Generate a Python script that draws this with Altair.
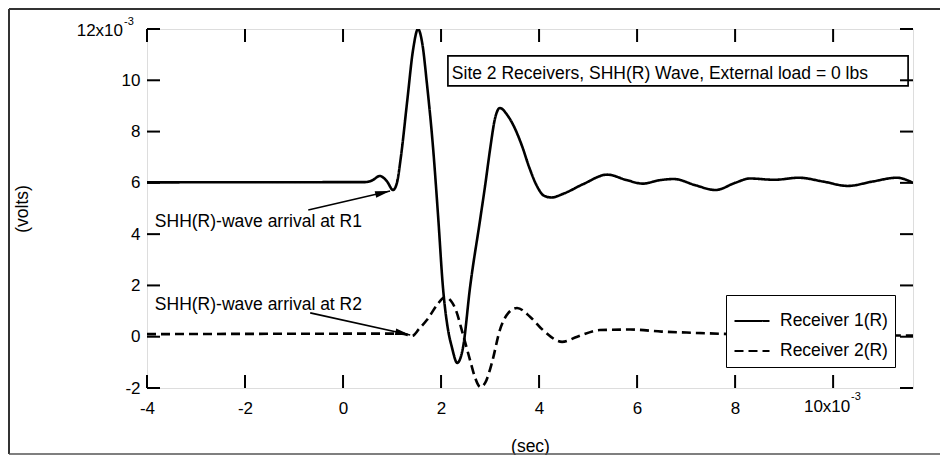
import altair as alt
import pandas as pd

# ---- data (time in 10^-3 s, amplitude in 10^-3 V) ----
series_names = ["Receiver 1(R)", "Receiver 2(R)"]

r1_t = [-4, 0.45, 0.6, 0.75, 0.9, 1.02, 1.1, 1.18, 1.31, 1.43, 1.53, 1.62, 1.71, 1.84,
        1.94, 2.04, 2.14, 2.22, 2.33, 2.45, 2.59, 2.8, 2.9, 3.0, 3.1, 3.2, 3.35, 3.5,
        3.65, 3.8, 3.95, 4.1, 4.25, 4.5, 4.9, 5.39, 5.8, 6.12, 6.45, 6.75, 7.2, 7.6, 8.0,
        8.3, 8.8, 9.3, 9.8, 10.3, 10.8, 11.3, 11.63]
r1_v = [6.02, 6.03, 6.1, 6.27, 6.05, 5.72, 6.0, 7.0, 9.2, 11.2, 12.0, 11.4, 9.9, 7.3,
        4.7, 1.9, 0.3, -0.4, -1.02, -0.4, 1.9, 4.6, 5.9, 7.3, 8.5, 8.92, 8.65, 8.15,
        7.45, 6.6, 5.9, 5.5, 5.43, 5.58, 5.95, 6.32, 6.1, 5.97, 6.1, 6.15, 5.9, 5.72, 6.0,
        6.17, 6.12, 6.2, 6.05, 5.88, 6.05, 6.2, 6.0]

r2_t = [-4, 1.2, 1.41, 1.55, 1.71, 1.92, 2.08, 2.2, 2.29, 2.45, 2.59, 2.69, 2.8, 2.9,
        3.04, 3.2, 3.37, 3.55, 3.82, 4.08, 4.47, 4.78, 5.24, 5.86, 6.5, 7.2, 8.0, 9.0,
        10.0, 11.0, 11.63]
r2_v = [0.1, 0.12, 0.03, 0.3, 0.65, 1.24, 1.55, 1.4, 1.1, 0.07, -0.9, -1.57, -1.96, -1.8,
        -1.0, 0.26, 0.92, 1.12, 0.77, 0.26, -0.2, 0.0, 0.26, 0.28, 0.2, 0.15, 0.1, 0.08,
        0.06, 0.05, 0.05]

x_ticks = [-4, -2, 0, 2, 4, 6, 8, 10]
y_ticks = [-2, 0, 2, 4, 6, 8, 10, 12]
x_domain = [-4, 11.63]
y_domain = [-2, 12]

note_texts = ["SHH(R)-wave arrival at R1", "SHH(R)-wave arrival at R2"]
note_x = [-3.84, -3.84]
note_y = [4.26, 1.04]
arrow_x1 = [-0.71, -0.67]
arrow_y1 = [4.94, 0.93]
arrow_x2 = [0.96, 1.37]
arrow_y2 = [5.68, 0.07]
arrow_angle = [347, 12]

info_text = ["Site 2 Receivers, SHH(R) Wave, External load = 0 lbs"]
info_x = [2.22]
info_y = [10.05]
info_box_x = [2.14]
info_box_x2 = [11.53]
info_box_y = [9.78]
info_box_y2 = [10.95]

FONT = "Liberation Sans"
W, H = 766, 359

xs = alt.Scale(domain=x_domain, nice=False, zero=False)
ys = alt.Scale(domain=y_domain, nice=False, zero=False)

df = pd.DataFrame({
    "t": r1_t + r2_t,
    "v": r1_v + r2_v,
    "series": [series_names[0]] * len(r1_t) + [series_names[1]] * len(r2_t),
})

x_axis = alt.Axis(values=x_ticks, tickSize=0, domain=False, grid=False,
                  labelExpr="datum.value == 10 ? '' : '' + datum.value",
                  labelFont=FONT, labelFontSize=17, labelColor="black",
                  labelPadding=25, labelBaseline="alphabetic", labelFlush=False,
                  labelOverlap=False,
                  title="(sec)", titleFont=FONT, titleFontSize=17.5,
                  titleFontWeight="normal", titleColor="black",
                  titleY=63, titleBaseline="alphabetic")
y_axis = alt.Axis(values=y_ticks, tickSize=0, domain=False, grid=False,
                  labelExpr="datum.value == 12 ? '' : '' + datum.value",
                  labelFont=FONT, labelFontSize=17, labelColor="black",
                  labelPadding=7, labelOverlap=False,
                  title="(volts)", titleFont=FONT, titleFontSize=17.5,
                  titleFontWeight="normal", titleColor="black",
                  titleX=-125, titleY=H / 2, titleAngle=270,
                  titleBaseline="middle", titleAlign="center")


def X(field="t"):
    return alt.X(f"{field}:Q", scale=xs, axis=x_axis)


def Y(field="v"):
    return alt.Y(f"{field}:Q", scale=ys, axis=y_axis)


lines = alt.Chart(df).mark_line(color="black", strokeWidth=2.6,
                                interpolate="monotone", clip=True).encode(
    x=X(), y=Y(),
    strokeDash=alt.StrokeDash(
        "series:N",
        scale=alt.Scale(domain=series_names, range=[[1, 0], [9, 5]]),
        legend=alt.Legend(
            orient="none", legendX=579, legendY=266, title=None,
            symbolType="stroke", symbolSize=1225, symbolStrokeWidth=2.2,
            symbolStrokeColor="black", labelFont=FONT, labelFontSize=17.5,
            labelColor="black", labelOffset=9, padding=7, rowPadding=2,
            fillColor="white", strokeColor="black", cornerRadius=0,
        ),
    ),
)

# inside ticks on all four sides
xt = pd.DataFrame({"t": x_ticks})
yt = pd.DataFrame({"v": y_ticks})
tick_style = dict(color="black", strokeWidth=2)
ticks_bottom = alt.Chart(xt).mark_rule(**tick_style).encode(
    x=X(), y=alt.value(H), y2=alt.value(H - 13))
ticks_top = alt.Chart(xt).mark_rule(**tick_style).encode(
    x=X(), y=alt.value(0), y2=alt.value(13))
ticks_left = alt.Chart(yt).mark_rule(**tick_style).encode(
    y=Y(), x=alt.value(0), x2=alt.value(13))
ticks_right = alt.Chart(yt).mark_rule(**tick_style).encode(
    y=Y(), x=alt.value(W), x2=alt.value(W - 13))

# exponent labels
exp_df = pd.DataFrame({"t": [x_domain[0], 10], "v": [12, y_domain[0]],
                       "main": ["12x10", "10x10"], "exp": ["-3", "-3"]})
y_exp_main = alt.Chart(exp_df.iloc[[0]]).mark_text(
    font=FONT, fontSize=17, align="right", baseline="middle", dx=-24, dy=2, color="black"
).encode(x=X(), y=Y(), text="main:N")
y_exp_sup = alt.Chart(exp_df.iloc[[0]]).mark_text(
    font=FONT, fontSize=11, align="left", baseline="middle", dx=-23, dy=-7, color="black"
).encode(x=X(), y=Y(), text="exp:N")
x_exp_main = alt.Chart(exp_df.iloc[[1]]).mark_text(
    font=FONT, fontSize=17, align="center", baseline="alphabetic", dx=-6, dy=24, color="black"
).encode(x=X(), y=Y(), text="main:N")
x_exp_sup = alt.Chart(exp_df.iloc[[1]]).mark_text(
    font=FONT, fontSize=11, align="left", baseline="middle", dx=18, dy=9, color="black"
).encode(x=X(), y=Y(), text="exp:N")

# arrival annotations
notes = pd.DataFrame({"t": note_x, "v": note_y, "label": note_texts})
note_text = alt.Chart(notes).mark_text(
    font=FONT, fontSize=17.5, align="left", baseline="alphabetic", color="black"
).encode(x=X(), y=Y(), text="label:N")

arrows = pd.DataFrame({"t": arrow_x1, "v": arrow_y1, "t2": arrow_x2, "v2": arrow_y2,
                       "ang": arrow_angle})
arrow_lines = alt.Chart(arrows).mark_rule(color="black", strokeWidth=1.6).encode(
    x=X(), y=Y(), x2="t2:Q", y2="v2:Q")
arrow_heads = alt.Chart(arrows).mark_point(
    shape="M0,0L-2,-0.45L-2,0.45Z", filled=True, color="black", opacity=1,
    size=225, strokeWidth=0
).encode(x=X("t2"), y=Y("v2"), angle=alt.Angle("ang:Q", scale=None))

# info box
info = pd.DataFrame({"t": info_box_x, "t2": info_box_x2, "v": info_box_y, "v2": info_box_y2})
info_rect = alt.Chart(info).mark_rect(fill="white", stroke="black", strokeWidth=1.7).encode(
    x=X(), x2="t2:Q", y=Y(), y2="v2:Q")
info_df = pd.DataFrame({"t": info_x, "v": info_y, "label": info_text})
info_label = alt.Chart(info_df).mark_text(
    font=FONT, fontSize=17.5, align="left", baseline="alphabetic", color="black"
).encode(x=X(), y=Y(), text="label:N")

# outer figure frame
frame_style = dict(color="#333333", strokeWidth=2)
one = pd.DataFrame({"a": [0]})
frame_left = alt.Chart(one).mark_rule(**frame_style).encode(
    x=alt.value(-138), x2=alt.value(-138), y=alt.value(-20), y2=alt.value(425))
frame_top = alt.Chart(one).mark_rule(**frame_style).encode(
    x=alt.value(-138), x2=alt.value(793), y=alt.value(-20), y2=alt.value(-20))
frame_bottom = alt.Chart(one).mark_rule(color="#555555", strokeWidth=1.5).encode(
    x=alt.value(-138), x2=alt.value(793), y=alt.value(425), y2=alt.value(425))

chart = alt.layer(
    lines, info_rect, info_label, ticks_bottom, ticks_top, ticks_left, ticks_right,
    y_exp_main, y_exp_sup, x_exp_main, x_exp_sup, note_text, arrow_lines, arrow_heads,
    frame_left, frame_top, frame_bottom,
).properties(
    width=W, height=H,
    autosize=alt.AutoSizeParams(type="none"),
    padding={"left": 139, "top": 21, "right": 27, "bottom": 67},
).configure_view(
    stroke="black", strokeWidth=2.5
).configure(
    background="white"
)

chart.save("out.html", embed_options={"renderer": "svg", "actions": False})
